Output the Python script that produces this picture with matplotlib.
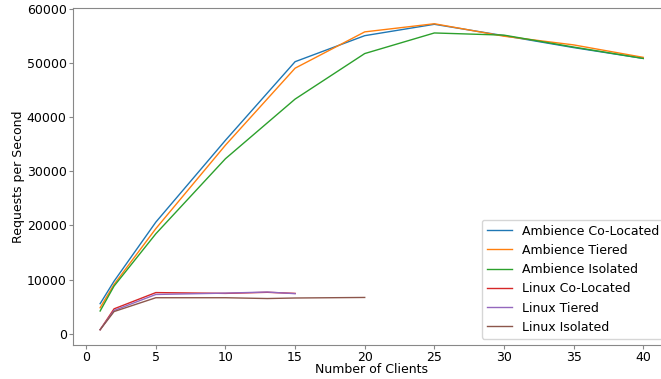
import matplotlib
matplotlib.use("Agg")
import matplotlib.pyplot as plt

# clients on the x axis
amb_x = [1, 2, 5, 10, 15, 20, 25, 30, 35, 40]
amb_coloc = [5550, 9700, 20600, 35700, 50200, 55000, 57100, 55000, 52800, 50800]
amb_tiered = [4800, 9100, 19400, 34800, 49000, 55700, 57200, 54900, 53300, 51000]
amb_isol = [4200, 8800, 18450, 32300, 43300, 51700, 55500, 55100, 52900, 50800]

lin_x = [1, 2, 5, 10, 13, 15]
lin_coloc = [750, 4600, 7600, 7450, 7650, 7450]
lin_tiered = [750, 4300, 7250, 7500, 7700, 7400]
lin_isol_x = [1, 2, 5, 10, 13, 15, 20]
lin_isol = [750, 4100, 6650, 6650, 6500, 6600, 6700]

plt.rcParams['font.size'] = 9

fig = plt.figure(figsize=(6.61, 3.79), dpi=100)
ax = fig.add_axes([0.1104, 0.0897, 0.9038, 0.888])

ax.plot(amb_x, amb_coloc, color='C0', lw=1, label='Ambience Co-Located')
ax.plot(amb_x, amb_tiered, color='C1', lw=1, label='Ambience Tiered')
ax.plot(amb_x, amb_isol, color='C2', lw=1, label='Ambience Isolated')
ax.plot(lin_x, lin_coloc, color='C3', lw=1, label='Linux Co-Located')
ax.plot(lin_x, lin_tiered, color='C4', lw=1, label='Linux Tiered')
ax.plot(lin_isol_x, lin_isol, color='C5', lw=1, label='Linux Isolated')

ax.set_xlabel('Number of Clients', labelpad=-1)
ax.set_ylabel('Requests per Second', labelpad=1)
ax.set_xticks([0, 5, 10, 15, 20, 25, 30, 35, 40])
ax.set_yticks([0, 10000, 20000, 30000, 40000, 50000, 60000])

for s in ax.spines.values():
    s.set_color('#888888')
ax.tick_params(color='#888888', length=3, pad=1.5)

ax.legend(loc='lower right')

fig.savefig('out.png', dpi=100)
